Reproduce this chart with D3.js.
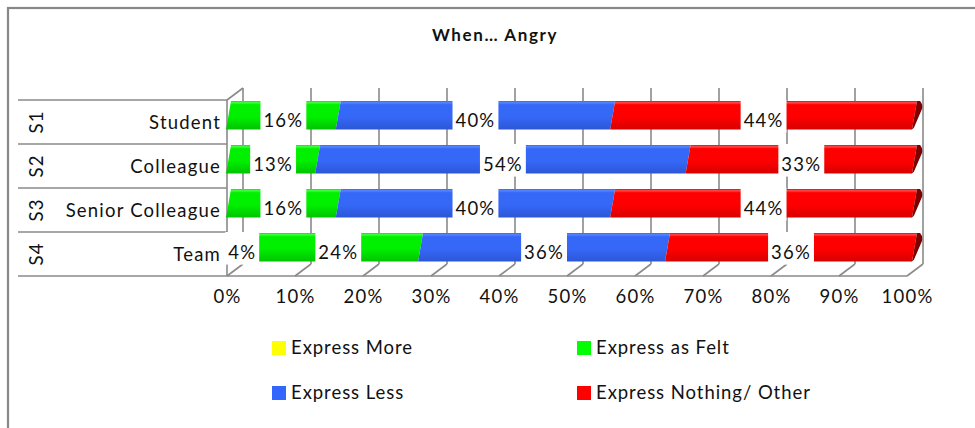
<!DOCTYPE html>
<html>
<head>
<meta charset="utf-8">
<script src="https://cdn.jsdelivr.net/npm/d3@7"></script>
<style>
  html, body { margin: 0; padding: 0; background: #fff; }
  svg { display: block; }
  text { font-family: Lato, "Noto Sans", sans-serif; fill: #111; }
</style>
</head>
<body>
<svg id="chart" width="975" height="428"></svg>
<script>
// Response shares (%) by target of the emotion
const categories = ["Student", "Colleague", "Senior Colleague", "Team"];
const codes = ["S1", "S2", "S3", "S4"];
const seriesNames = ["Express More", "Express as Felt", "Express Less", "Express Nothing/ Other"];
const expressMore = [0, 0, 0, 4];
const expressAsFelt = [16, 13, 16, 24];
const expressLess = [40, 54, 40, 36];
const expressNothing = [44, 33, 44, 36];
const tickValues = [0, 10, 20, 30, 40, 50, 60, 70, 80, 90, 100];
const title = "When\u2026 Angry";

const seriesValues = [expressMore, expressAsFelt, expressLess, expressNothing];
const palette = {
  "Express More":           { light: "#ffff70", main: "#ffff00", dark: "#d6d600", swatch: "#ffff00" },
  "Express as Felt":        { light: "#40ff40", main: "#00f000", dark: "#00c400", swatch: "#00ff00" },
  "Express Less":           { light: "#5585ff", main: "#3668f8", dark: "#2c56d6", swatch: "#3366ff" },
  "Express Nothing/ Other": { light: "#ff4a4a", main: "#ff0000", dark: "#d80000", swatch: "#ff0000" }
};
const capColor = "#7d0000";
const bodySize = "18.5px", bodySpacing = "1.2px";

const svg = d3.select("#chart");
const defs = svg.append("defs");

// chart frame
svg.append("rect")
  .attr("x", 8).attr("y", 8).attr("width", 1000).attr("height", 460)
  .attr("fill", "none").attr("stroke", "#878787").attr("stroke-width", 2.2);

// title
svg.append("text")
  .attr("x", 495).attr("y", 41)
  .attr("text-anchor", "middle")
  .style("font-weight", "bold").style("font-size", "17px").style("letter-spacing", "1.6px")
  .text(title);

// scales: front edge of the floor, and the bars sitting at mid depth
const x = d3.scaleLinear().domain([0, 100]).range([227, 907]);
const xBar = d3.scaleLinear().domain([0, 100]).range([226, 912]);
const y = d3.scaleBand().domain(categories).range([100, 276]).paddingInner(0).paddingOuter(0);
const depthX = 16, depthY = -12;
const wallTop = y.range()[0], floorY = y.range()[1];
const gridColor = "#8a8a8a";

// back wall gridlines
const grid = svg.append("g").attr("stroke", gridColor).attr("stroke-width", 1.6);
grid.selectAll("line.v").data(tickValues).join("line")
  .attr("class", "v")
  .attr("x1", d => x(d) + depthX).attr("x2", d => x(d) + depthX)
  .attr("y1", wallTop + depthY).attr("y2", floorY + depthY);
// floor depth lines
grid.selectAll("line.d").data(tickValues).join("line")
  .attr("class", "d")
  .attr("x1", d => x(d)).attr("y1", floorY)
  .attr("x2", d => x(d) + depthX).attr("y2", floorY + depthY);
// side wall top edge
grid.append("line")
  .attr("x1", x(0)).attr("y1", wallTop)
  .attr("x2", x(0) + depthX).attr("y2", wallTop + depthY);

// category table on the left
const table = svg.append("g").attr("stroke", gridColor).attr("stroke-width", 1.6);
const bandEdges = categories.map(c => y(c)).concat([floorY]);
table.selectAll("line").data(bandEdges).join("line")
  .attr("x1", 18).attr("x2", x(0)).attr("y1", d => d).attr("y2", d => d);
table.append("line")
  .attr("x1", x(0)).attr("x2", x(0)).attr("y1", wallTop).attr("y2", floorY);
// floor front edge
svg.append("line")
  .attr("x1", x(0)).attr("x2", x(100)).attr("y1", floorY).attr("y2", floorY)
  .attr("stroke", gridColor).attr("stroke-width", 1.6);

svg.append("g").selectAll("text").data(categories).join("text")
  .attr("x", 221).attr("y", c => y(c) + y.bandwidth() / 2 + 7)
  .attr("text-anchor", "end")
  .style("font-size", bodySize).style("letter-spacing", bodySpacing)
  .text(c => c);
svg.append("g").selectAll("text").data(codes).join("text")
  .attr("transform", (d, i) => `translate(${43},${y(categories[i]) + y.bandwidth() / 2}) rotate(-90)`)
  .attr("text-anchor", "middle")
  .style("font-size", bodySize).style("letter-spacing", bodySpacing)
  .text(d => d);

// gradients for the bar faces
seriesNames.forEach((name, i) => {
  const p = palette[name];
  const g = defs.append("linearGradient").attr("id", "grad" + i)
    .attr("x1", 0).attr("y1", 0).attr("x2", 0).attr("y2", 1);
  g.append("stop").attr("offset", 0).attr("stop-color", p.main);
  g.append("stop").attr("offset", 0.06).attr("stop-color", p.light);
  g.append("stop").attr("offset", 0.13).attr("stop-color", p.main);
  g.append("stop").attr("offset", 0.55).attr("stop-color", p.main);
  g.append("stop").attr("offset", 1).attr("stop-color", p.dark);
});

// stacked segments
const rows = categories.map((c, ci) => {
  let acc = 0;
  const segs = seriesNames.map((s, si) => {
    const v = seriesValues[si][ci];
    const seg = { cat: c, series: s, si, v, x0: acc, x1: acc + v };
    acc += v;
    return seg;
  });
  return { cat: c, segs };
});

const barTop = c => y(c) + 1;
const barH = y.bandwidth() * 0.65;
const slant = 5;

const bars = svg.append("g");
rows.forEach(row => {
  const t = barTop(row.cat), b = t + barH;
  const visible = row.segs.filter(s => s.v > 0);
  bars.selectAll(null).data(visible).join("path")
    .attr("d", s => {
      const a = xBar(s.x0), e = xBar(s.x1);
      return `M${a + slant},${t} L${e + slant},${t} L${e},${b} L${a},${b} Z`;
    })
    .attr("fill", s => `url(#grad${s.si})`);
  // darker end cap of the last segment
  const last = visible[visible.length - 1];
  const e = xBar(last.x1);
  bars.append("path")
    .attr("d", `M${e + slant},${t} L${e + slant + 3},${t} Q${e + slant + 6},${t + 3} ${e + slant + 5},${t + 8}
                L${e + 2},${b - 2} Q${e + 1},${b} ${e - 1},${b} L${e},${b} Z`)
    .attr("fill", capColor);
});

// value labels on white boxes
const labels = svg.append("g");
rows.forEach(row => {
  const t = barTop(row.cat);
  row.segs.filter(s => s.v > 0).forEach(s => {
    const cx = xBar((s.x0 + s.x1) / 2) + slant / 2;
    const txt = labels.append("text")
      .attr("x", cx).attr("y", t + barH / 2 + 12)
      .attr("text-anchor", "middle")
      .style("font-size", bodySize).style("letter-spacing", bodySpacing)
      .text(s.v + "%");
    const bb = txt.node().getBBox();
    labels.insert("rect", "text")
      .attr("x", bb.x - 3).attr("width", bb.width + 6)
      .attr("y", t - 1).attr("height", barH + 4)
      .attr("fill", "#fff");
  });
});

// x axis tick labels
const axis = d3.axisBottom(x).tickValues(tickValues).tickFormat(d => d + "%").tickSize(0).tickPadding(0);
const ax = svg.append("g").attr("transform", `translate(0,${floorY})`).call(axis);
ax.select(".domain").remove();
ax.selectAll("text")
  .attr("y", 27).attr("dy", 0)
  .style("font-family", "Lato, 'Noto Sans', sans-serif")
  .style("font-size", bodySize).style("letter-spacing", bodySpacing)
  .attr("fill", "#111");

// legend
const legendPos = [[272, 348], [577, 348], [272, 393], [577, 393]];
const legend = svg.append("g");
seriesNames.forEach((name, i) => {
  const [lx, ly] = legendPos[i];
  legend.append("rect")
    .attr("x", lx).attr("y", ly - 7).attr("width", 14).attr("height", 14)
    .attr("fill", palette[name].swatch);
  legend.append("text")
    .attr("x", lx + 19).attr("y", ly + 6)
    .style("font-size", bodySize).style("letter-spacing", "0.95px")
    .text(name);
});
</script>
</body>
</html>
